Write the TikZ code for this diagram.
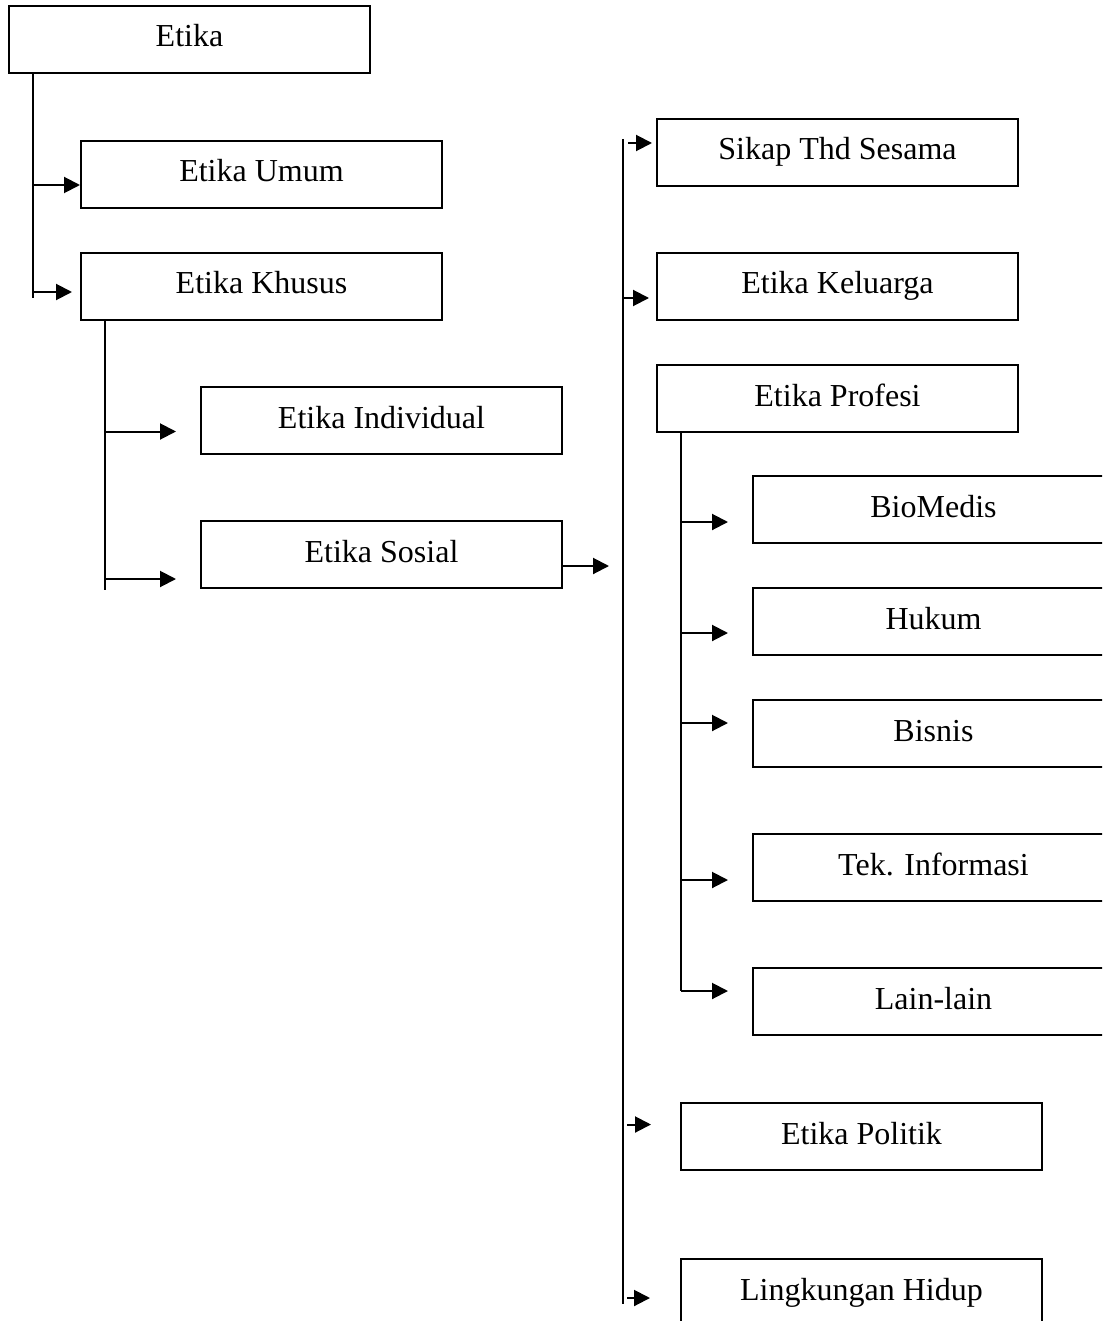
\documentclass[tikz,border=0pt]{standalone}
\usepackage{fontspec}
\setmainfont{Liberation Serif}
\usetikzlibrary{arrows.meta,calc}
\begin{document}
\begin{tikzpicture}[x=1pt,y=-1pt,
  box/.style={draw,line width=2pt,rectangle,minimum width=361pt,minimum height=67pt,
    inner sep=0pt,text height=41pt,text depth=26pt,anchor=north west,
    font=\fontsize{32}{38}\selectfont},
  ln/.style={line width=2pt},
  arr/.style={line width=2pt,-{Triangle[length=16pt,width=16pt]}}]
\useasboundingbox (0,0) rectangle (1102,1321);
\clip (0,0) rectangle (1102,1321);
% boxes
\node[box] (etika) at (8,5) {Etika};
\node[box] (umum) at (80,140) {Etika Umum};
\node[box] (khusus) at (80,252) {Etika Khusus};
\node[box] (indiv) at (200,386) {Etika Individual};
\node[box] (sosial) at (200,520) {Etika Sosial};
\node[box] (sikap) at (656,118) {Sikap Thd Sesama};
\node[box] (kel) at (656,252) {Etika Keluarga};
\node[box] (prof) at (656,364) {Etika Profesi};
\node[box] (bio) at (752,475) {BioMedis};
\node[box] (hukum) at (752,587) {Hukum};
\node[box] (bisnis) at (752,699) {Bisnis};
\node[box] (tek) at (752,833) {Tek. Informasi};
\node[box] (lain) at (752,967) {Lain-lain};
\node[box] (pol) at (680,1102) {Etika Politik};
\node[box] (ling) at (680,1258) {Lingkungan Hidup};
% level 1
\coordinate (e1) at ($(etika.south west)+(25,0)$);
\coordinate (e1end) at ($(e1)+(0,224)$);
\draw[ln] (e1) -- (e1end);
\draw[arr] ($(e1 |- umum.west)+(0,10.5)$) -- ($(umum.west)+(0,10.5)$);
\draw[arr] ($(e1 |- khusus.west)+(0,5.5)$) -- ($(khusus.west)+(-8,5.5)$);
% level 2
\coordinate (k1) at ($(khusus.south west)+(25,0)$);
\coordinate (k1end) at ($(k1)+(0,269)$);
\draw[ln] (k1) -- (k1end);
\draw[arr] ($(k1 |- indiv.west)+(0,11)$) -- ($(indiv.west)+(-24,11)$);
\draw[arr] ($(k1 |- sosial.west)+(0,24.5)$) -- ($(sosial.west)+(-24,24.5)$);
% sosial out
\coordinate (s1) at ($(sosial.east)+(0,11.5)$);
\draw[arr] (s1) -- ($(s1)+(46,0)$);
% big vertical
\coordinate (bv) at (623,139);
\coordinate (bvend) at (623,1304);
\draw[ln] (bv) -- (bvend);
\draw[arr] ($(bv |- sikap.west)+(5,-9.5)$) -- ($(sikap.west)+(-4,-9.5)$);
\draw[arr] ($(bv |- kel.west)+(0,11.5)$) -- ($(kel.west)+(-7,11.5)$);
\draw[arr] ($(bv |- pol.west)+(4,-12)$) -- ($(pol.west)+(-29,-12)$);
\draw[arr] ($(bv |- ling.west)+(4,5.5)$) -- ($(ling.west)+(-30,5.5)$);
% profesi
\coordinate (p1) at ($(prof.south west)+(25,0)$);
\coordinate (p1end) at ($(p1 |- lain.west)+(0,-10.5)$);
\draw[ln] (p1) -- (p1end);
\draw[arr] ($(p1 |- bio.west)+(0,12.5)$) -- ($(bio.west)+(-24,12.5)$);
\draw[arr] ($(p1 |- hukum.west)+(0,11.5)$) -- ($(hukum.west)+(-24,11.5)$);
\draw[arr] ($(p1 |- bisnis.west)+(0,-10.5)$) -- ($(bisnis.west)+(-24,-10.5)$);
\draw[arr] ($(p1 |- tek.west)+(0,12.5)$) -- ($(tek.west)+(-24,12.5)$);
\draw[arr] (p1end) -- ($(lain.west)+(-24,-10.5)$);
\end{tikzpicture}
\end{document}
